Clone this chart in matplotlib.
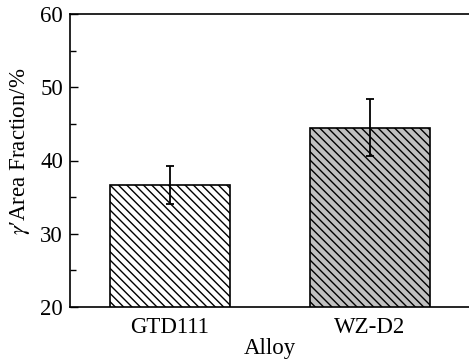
import matplotlib
matplotlib.use("Agg")
import matplotlib.pyplot as plt
from matplotlib.ticker import MultipleLocator

# values
alloys = ["GTD111", "WZ-D2"]
area_fraction = [36.6, 44.5]
area_err = [2.6, 3.9]
fills = ["white", "#c0c0c0"]

plt.rcParams["font.family"] = ["Liberation Serif", "DejaVu Serif"]
plt.rcParams["mathtext.fontset"] = "stix"
plt.rcParams["hatch.linewidth"] = 1.0

fig = plt.figure(figsize=(4.69, 3.59), dpi=100)
ax = fig.add_axes([70 / 469, 52 / 359, 400 / 469, 293 / 359])

x = range(len(alloys))
ax.bar(x, area_fraction, width=0.6, color=fills, edgecolor="black",
       linewidth=1.2, hatch="\\\\\\\\", zorder=2)
ax.errorbar(x, area_fraction, yerr=area_err, fmt="none", ecolor="black",
            elinewidth=1.3, capsize=3, capthick=1.3, zorder=3)

ax.set_xlim(-0.5, 1.5)
ax.set_ylim(20, 60)
ax.set_xticks(list(x))
ax.set_xticklabels(alloys)
ax.yaxis.set_major_locator(MultipleLocator(10))
ax.yaxis.set_minor_locator(MultipleLocator(5))

fs = 16.5
ax.tick_params(axis="y", which="major", direction="in", length=6, width=1,
               labelsize=fs, pad=5)
ax.tick_params(axis="y", which="minor", direction="in", length=4, width=1)
ax.tick_params(axis="x", which="both", length=0, labelsize=fs, pad=7)
ax.tick_params(right=False, top=False)

for side in ["left", "bottom", "top"]:
    ax.spines[side].set_linewidth(1.2)
ax.spines["right"].set_visible(False)

ax.set_xlabel("Alloy", fontsize=fs, labelpad=0)
ax.set_ylabel(r"$\gamma$" + "\u2032Area Fraction/%", fontsize=fs)
ax.yaxis.set_label_coords(-0.096, 0.53)

fig.savefig("out.png", dpi=100)
